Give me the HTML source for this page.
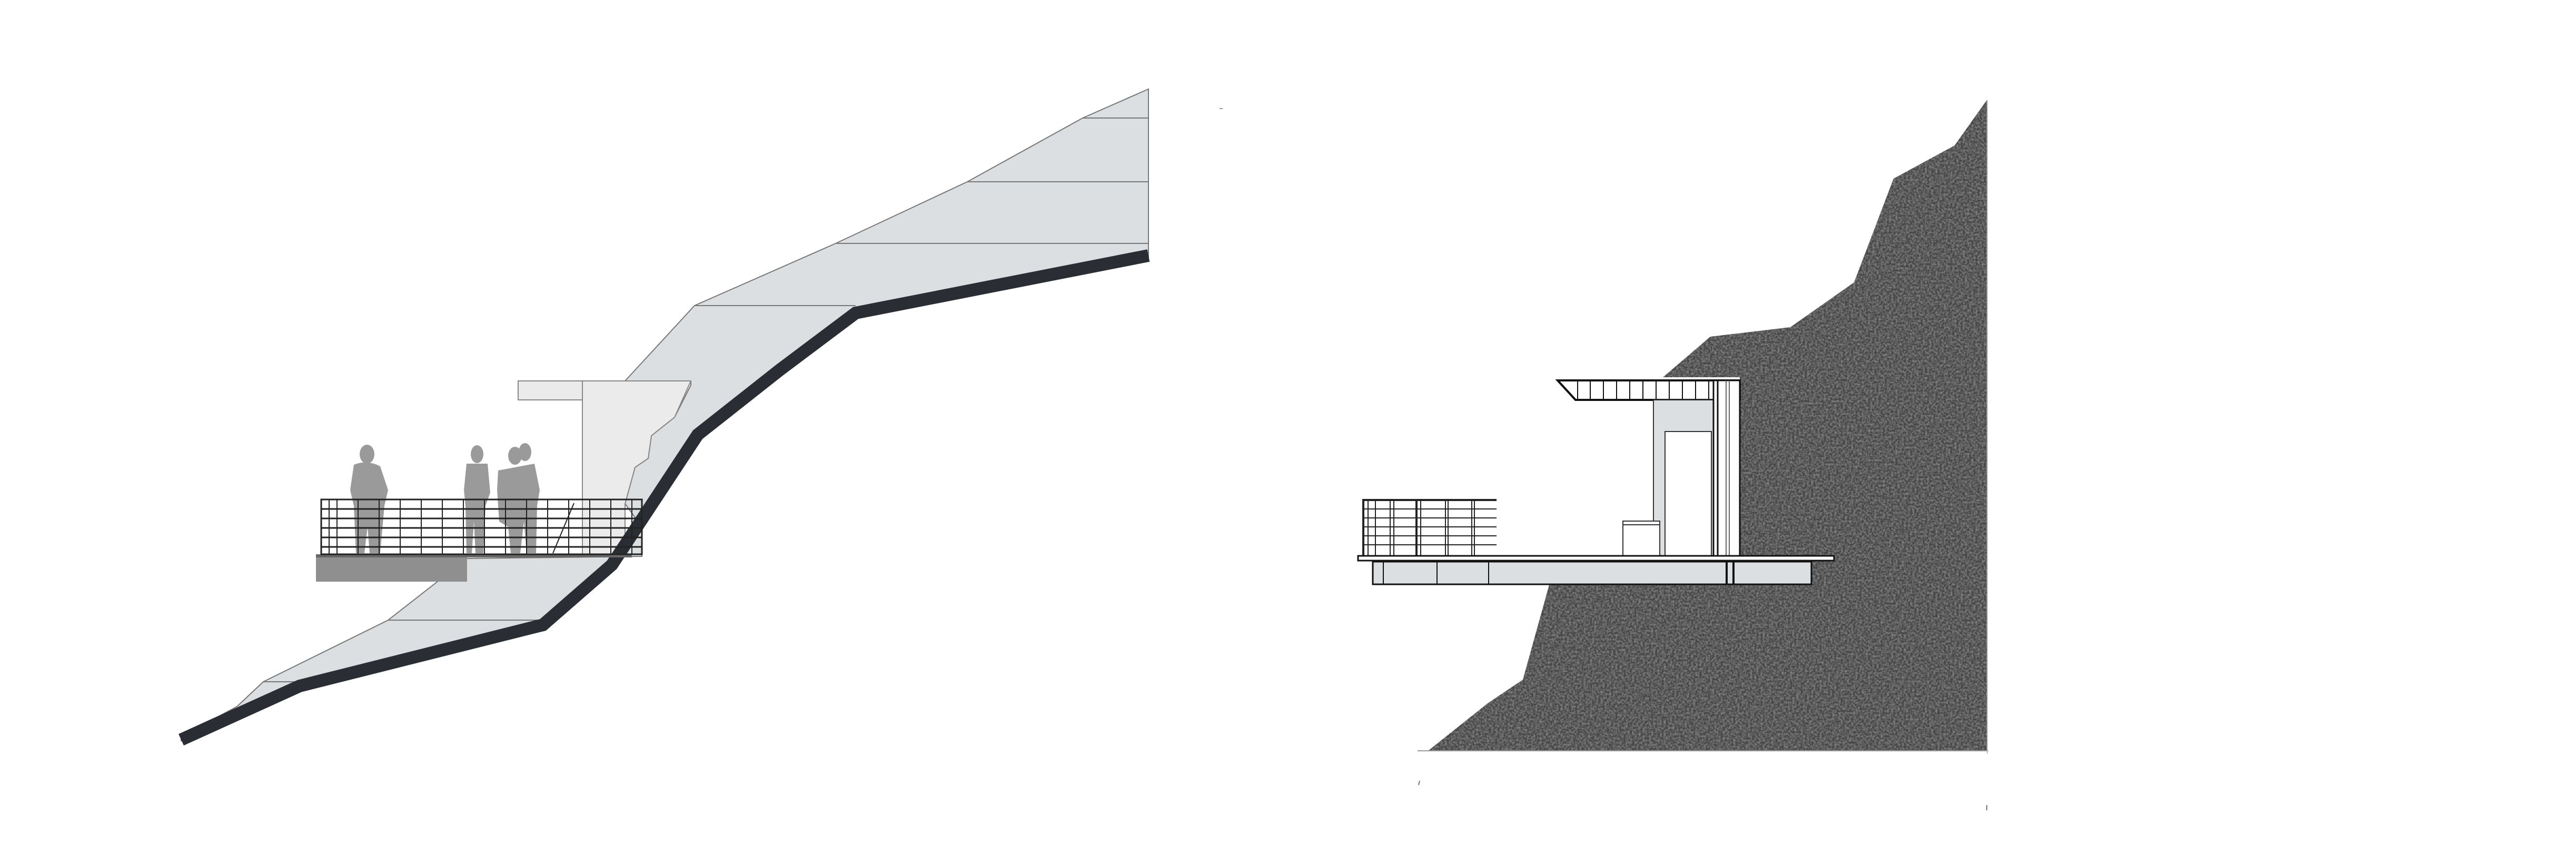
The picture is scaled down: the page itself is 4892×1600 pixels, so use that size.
<!DOCTYPE html>
<html><head><meta charset="utf-8"><style>html,body{margin:0;padding:0;background:#fff}svg{display:block}</style></head>
<body>
<svg width="4892" height="1600" viewBox="0 0 4892 1600" xmlns="http://www.w3.org/2000/svg">
<defs>
<filter id="grain" x="0" y="0" width="100%" height="100%">
<feTurbulence type="fractalNoise" baseFrequency="0.25" numOctaves="2" seed="4" result="n"/>
<feColorMatrix type="matrix" values="0 0 0 0 0.55  0 0 0 0 0.55  0 0 0 0 0.55  0 0 0 0.7 -0.25" in="n" result="m"/>
<feComposite in="m" in2="SourceGraphic" operator="in" result="c"/>
<feMerge><feMergeNode in="SourceGraphic"/><feMergeNode in="c"/></feMerge>
</filter>
</defs>
<rect width="4892" height="1600" fill="#fff"/>

<!-- LEFT: section -->
<g stroke="#777" stroke-width="2">
<polygon fill="#dcdfe2" points="2181,169 2056,224 1837,345 1587,462 1319,580 1187,723 1312,723 1312,731 1281,792 1237,827 1231,870 1206,887 1187,956 1219,1000 1219,1056 887,1060 737,1177 500,1294 450,1341 344,1398 344,1406 569,1307 1031,1190 1162,1077 1325,827 1481,706 1625,597 2181,489"/>
<line x1="2056" y1="224" x2="2181" y2="224"/>
<line x1="1837" y1="345" x2="2181" y2="345"/>
<line x1="1587" y1="462" x2="2181" y2="462"/>
<line x1="1319" y1="580" x2="1625" y2="580"/>
<line x1="737" y1="1177" x2="1040" y2="1177"/>
<line x1="500" y1="1294" x2="569" y2="1294"/>
</g>
<rect x="984" y="723" width="122" height="36" fill="#ecebec" stroke="#888" stroke-width="2"/>
<polygon points="1106,723 1312,723 1281,792 1237,827 1231,870 1206,887 1187,956 1187,1056 1106,1056" fill="#ecebec" stroke="#888" stroke-width="2"/>
<polyline points="344,1404 569,1302 1031,1186 1162,1072 1325,825 1481,702 1625,594 2181,485" fill="none" stroke="#2a2d33" stroke-width="24" stroke-linejoin="miter"/>
<rect x="600" y="1056" width="287" height="48" fill="#8f8f8f"/>
<rect x="600" y="1052" width="600" height="6" fill="#666"/>
<g fill="#9a9a9a">
<ellipse cx="697" cy="862" rx="14" ry="18"/>
<path d="M672,882 Q697,872 722,885 L737,930 L730,960 L722,1050 L702,1050 L698,1000 L692,1050 L676,1050 L672,960 L665,930 Z"/>
<ellipse cx="906" cy="862" rx="12" ry="17"/>
<path d="M886,880 L926,880 L931,935 L922,960 L918,1050 L903,1050 L900,990 L896,1050 L886,1050 L884,960 L881,930 Z"/>
<ellipse cx="978" cy="865" rx="13" ry="17"/>
<ellipse cx="997" cy="858" rx="12" ry="17"/>
<path d="M946,893 L1015,880 L1025,930 L1020,960 L1018,1050 L1000,1050 L995,990 L988,1050 L970,1050 L965,1000 L948,990 L944,930 Z"/>
</g>
<g stroke="#222" stroke-width="3" fill="none">
<rect x="610" y="948" width="609" height="104"/>
<line x1="610" y1="966" x2="1219" y2="966"/>
<line x1="610" y1="984" x2="1219" y2="984"/>
<line x1="610" y1="1002" x2="1219" y2="1002"/>
<line x1="610" y1="1020" x2="1219" y2="1020"/>
<line x1="610" y1="1038" x2="1219" y2="1038"/>
<g stroke-width="2">
<line x1="625" y1="948" x2="625" y2="1052"/><line x1="640" y1="948" x2="640" y2="1052"/>
<line x1="680" y1="948" x2="680" y2="1052"/><line x1="720" y1="948" x2="720" y2="1052"/>
<line x1="760" y1="948" x2="760" y2="1052"/><line x1="800" y1="948" x2="800" y2="1052"/>
<line x1="840" y1="948" x2="840" y2="1052"/><line x1="880" y1="948" x2="880" y2="1052"/>
<line x1="920" y1="948" x2="920" y2="1052"/><line x1="960" y1="948" x2="960" y2="1052"/>
<line x1="1000" y1="948" x2="1000" y2="1052"/><line x1="1040" y1="948" x2="1040" y2="1052"/>
<line x1="1080" y1="948" x2="1080" y2="1052"/><line x1="1120" y1="948" x2="1120" y2="1052"/>
<line x1="1160" y1="948" x2="1160" y2="1052"/><line x1="1200" y1="948" x2="1200" y2="1052"/>
<line x1="1090" y1="955" x2="1050" y2="1050"/>
</g>
</g>
<line x1="2316" y1="206" x2="2322" y2="206" stroke="#999" stroke-width="2"/>

<!-- RIGHT: rock -->
<polygon filter="url(#grain)" fill="#474747" points="3773,190 3712,276 3596,339 3521,536 3400,621 3248,639 3158,716 3158,1110 2942,1110 2892,1290 2825,1335 2712,1425 3773,1425"/>
<rect x="3150" y="716" width="154" height="340" fill="#fff"/>
<line x1="2692" y1="1425" x2="3776" y2="1425" stroke="#999" stroke-width="2"/>
<line x1="3774" y1="190" x2="3774" y2="1430" stroke="#bbb" stroke-width="2"/>
<line x1="2696" y1="1482" x2="2694" y2="1490" stroke="#777" stroke-width="2"/>
<line x1="3773" y1="1528" x2="3773" y2="1538" stroke="#777" stroke-width="2"/>
<g stroke="#111" fill="none">
<polygon points="2958,722 3304,722 3304,759 2992,759" stroke-width="4" fill="#fff"/>
<g stroke-width="2">
<line x1="2996" y1="722" x2="2996" y2="759"/><line x1="3020" y1="722" x2="3020" y2="759"/>
<line x1="3045" y1="722" x2="3045" y2="759"/><line x1="3070" y1="722" x2="3070" y2="759"/>
<line x1="3095" y1="722" x2="3095" y2="759"/><line x1="3120" y1="722" x2="3120" y2="759"/>
<line x1="3145" y1="722" x2="3145" y2="759"/><line x1="3170" y1="722" x2="3170" y2="759"/>
<line x1="3195" y1="722" x2="3195" y2="759"/><line x1="3220" y1="722" x2="3220" y2="759"/>
<line x1="3245" y1="722" x2="3245" y2="759"/>
</g>
</g>
<rect x="3140" y="759" width="114" height="298" fill="#dcdfe2" stroke="#333" stroke-width="2"/>
<rect x="3162" y="819" width="88" height="238" fill="#fff" stroke="#333" stroke-width="2"/>
<rect x="3254" y="722" width="50" height="335" fill="#fff" stroke="#111" stroke-width="3"/>
<line x1="3262" y1="722" x2="3262" y2="1057" stroke="#111" stroke-width="3"/>
<line x1="3278" y1="722" x2="3278" y2="1057" stroke="#666" stroke-width="2"/>
<line x1="3284" y1="722" x2="3284" y2="1057" stroke="#666" stroke-width="2"/>
<rect x="3082" y="989" width="70" height="68" fill="#fff" stroke="#333" stroke-width="2"/>
<line x1="3082" y1="996" x2="3152" y2="996" stroke="#333" stroke-width="2"/>
<g stroke="#222" stroke-width="2" fill="none">
<line x1="2587" y1="949" x2="2842" y2="949" stroke-width="4"/>
<line x1="2587" y1="966" x2="2842" y2="966"/>
<line x1="2587" y1="983" x2="2842" y2="983"/>
<line x1="2587" y1="1000" x2="2842" y2="1000"/>
<line x1="2587" y1="1017" x2="2842" y2="1017"/>
<line x1="2587" y1="1034" x2="2842" y2="1034"/>
<line x1="2589" y1="949" x2="2589" y2="1055" stroke-width="4"/>
<line x1="2598" y1="949" x2="2598" y2="1055"/>
<line x1="2612" y1="949" x2="2612" y2="1055"/>
<line x1="2640" y1="949" x2="2640" y2="1055"/>
<line x1="2647" y1="949" x2="2647" y2="1055"/>
<line x1="2690" y1="949" x2="2690" y2="1055" stroke-width="4"/>
<line x1="2698" y1="949" x2="2698" y2="1055"/>
<line x1="2745" y1="949" x2="2745" y2="1055"/>
<line x1="2750" y1="949" x2="2750" y2="1055"/>
<line x1="2795" y1="949" x2="2795" y2="1055"/>
<line x1="2800" y1="949" x2="2800" y2="1055"/>
</g>
<rect x="2579" y="1055" width="904" height="9" fill="#fff" stroke="#111" stroke-width="3"/>
<rect x="2607" y="1066" width="833" height="43" fill="#dcdfe2" stroke="#111" stroke-width="3"/>
<g stroke="#111" stroke-width="2">
<line x1="2627" y1="1066" x2="2627" y2="1109"/><line x1="2729" y1="1066" x2="2729" y2="1109"/>
<line x1="2827" y1="1066" x2="2827" y2="1109"/><line x1="3279" y1="1066" x2="3279" y2="1109" stroke-width="4"/>
<line x1="3292" y1="1066" x2="3292" y2="1109" stroke-width="4"/>
</g>
</svg>
</body></html>
